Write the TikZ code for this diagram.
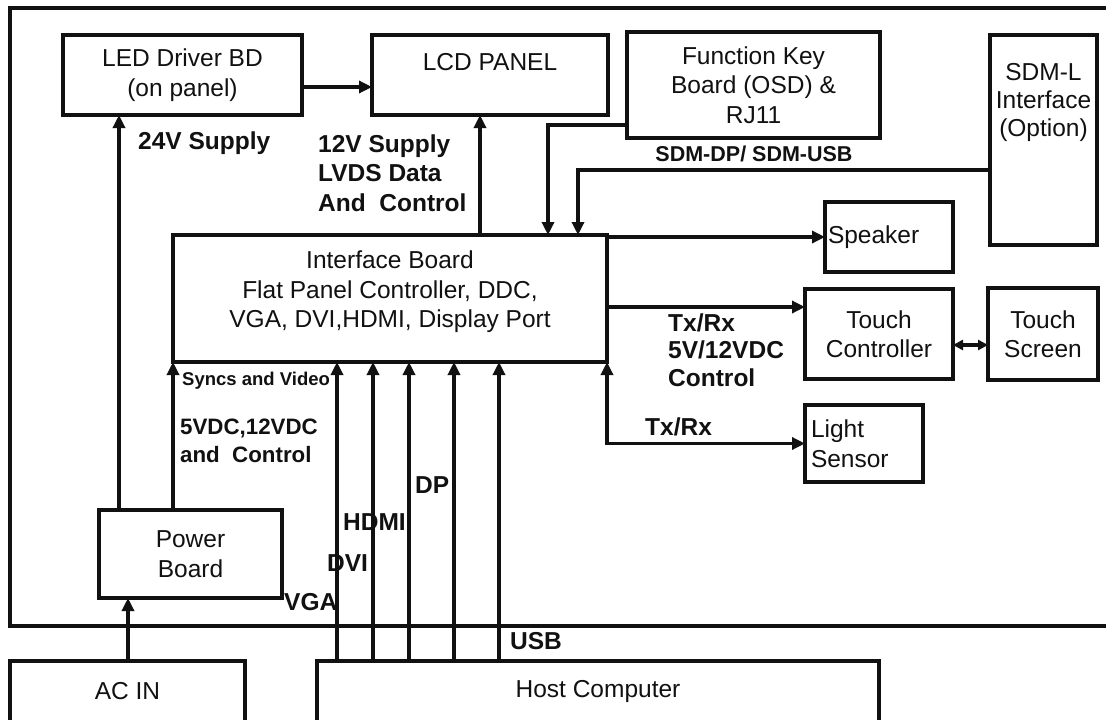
\documentclass[tikz,border=0pt]{standalone}
\usepackage{fontspec}
\setmainfont{Liberation Sans}
\usetikzlibrary{arrows.meta, positioning}
\definecolor{BDink}{HTML}{111111}
\tikzset{
  bdbox/.style={
    rectangle, draw=BDink, line width=3.8pt, fill=white, text=BDink,
    align=center, inner sep=2pt, outer sep=0pt,
    font=\fontsize{24.5}{29.5}\selectfont},
  bdboxl/.style={bdbox, align=left},
  bdlbl/.style={text=BDink, inner sep=0pt, align=left, anchor=west,
    font=\fontsize{24.5}{29.5}\selectfont\bfseries},
  bdframe/.style={line width=3.6pt, draw=BDink},
  bdarr/.style={-{Triangle[length=13pt,width=12pt]}, line width=3.3pt, draw=BDink},
  bdarr2/.style={{Triangle[length=13pt,width=12pt]}-{Triangle[length=13pt,width=12pt]},
    line width=3.3pt, draw=BDink},
  bdlink/.style={{Triangle[length=10pt,width=10pt]}-{Triangle[length=10pt,width=10pt]},
    line width=3.3pt, draw=BDink},
}

\begin{document}
\begin{tikzpicture}[x=1pt, y=-1pt]
  \useasboundingbox (0,0) rectangle (1106,720);
  %% Monitor enclosure (right side runs off the page)
  \draw[bdframe] (1112,8) -- (10,8) -- (10,626) -- (1112,626);
  %% Row 1: panel, keys, SDM
  \node[bdbox, minimum width=239pt, minimum height=80pt] (led) at (182.5,75)
        {LED Driver BD\\(on panel)};
  \node[bdbox, minimum width=236pt, minimum height=80pt, text depth=26pt,
        right=70pt of led] (lcd) {LCD PANEL};
  \node[bdbox, minimum width=253pt, minimum height=106pt] (fk) at (753.5,85)
        {Function Key\\Board (OSD) \&\\RJ11};
  \node[bdbox, minimum width=107pt, minimum height=210pt] (sdml) at (1043.5,140)
        {\parbox[c][154pt][t]{100pt}{\centering\baselineskip=28pt SDM-L\\Interface\\(Option)}};
  %% Row 2: interface board and peripherals
  \node[bdbox, minimum width=434pt, minimum height=127pt, text depth=18pt] (ifb)
        at (390,298.5)
        {Interface Board\\Flat Panel Controller, DDC,\\VGA, DVI,HDMI, Display Port};
  \node[bdbox, minimum width=148pt, minimum height=90pt] (tc) at (879,334)
        {Touch\\Controller};
  \node[bdbox, minimum width=110pt, minimum height=92pt, right=35pt of tc] (ts)
        {Touch\\Screen};
  \node[bdboxl, text width=122pt, inner xsep=3pt, minimum height=70pt,
        above=17pt of tc.north east, anchor=south east] (spk) {Speaker};
  \node[bdboxl, text width=106pt, inner xsep=6pt, minimum height=77pt,
        below=26pt of tc.south west, anchor=north west] (ls) {Light\\Sensor};
  %% Row 3: power
  \node[bdbox, minimum width=183pt, minimum height=88pt] (pwr) at (190.5,554)
        {Power\\Board};
  %% Row 4: outside the monitor
  \node[bdbox, minimum width=235pt, minimum height=61pt] (acin) at (127.5,691.5)
        {AC IN};
  \node[bdbox, minimum width=562pt, minimum height=61pt] (host) at (598,691.5)
        {Host Computer};
  %% Arrows
  \draw[bdarr] (led.east |- 0,87) -- (lcd.west |- 0,87);
  \draw[bdarr] (pwr.north -| 119,0) -- (led.south -| 119,0);
  \draw[bdarr] (pwr.north -| ifb.south west) -- (ifb.south west);
  \draw[bdarr] (ifb.north -| 480,0) -- (lcd.south -| 480,0);
  \draw[bdarr] (fk.west |- 0,125) -| (ifb.north -| 548,0);
  \draw[bdarr] (sdml.west |- 0,170) -| (ifb.north -| 578,0);
  \draw[bdarr] (ifb.east |- spk.west) -- (spk.west);
  \draw[bdarr] (ifb.east |- 0,307) -- (tc.west |- 0,307);
  \draw[bdlink] (tc.east |- 0,345) -- (ts.west |- 0,345);
  \draw[bdarr2] (ifb.south east) |- (ls.west);
  \foreach \x in {337,373,409,454,499}
    \draw[bdarr] (host.north -| \x,0) -- (ifb.south -| \x,0);
  \draw[bdarr] (acin.north -| 128,0) -- (pwr.south -| 128,0);
  %% Labels
  \node[bdlbl] (l24v) at (138,143) {24V Supply};
  \node[bdlbl] (llvds) at (318,173) {12V Supply\\LVDS Data\\And~~Control};
  \node[bdlbl, anchor=center, font=\fontsize{21.5}{25}\selectfont\bfseries]
        (lsdm) at (754,154) {SDM-DP/ SDM-USB};
  \node[bdlbl, font=\fontsize{18.5}{22}\selectfont\bfseries] (lsync) at (182,381)
        {Syncs and Video};
  \node[bdlbl, font=\fontsize{22.3}{28}\selectfont\bfseries] (lpwr) at (180,441)
        {5VDC,12VDC\\and~~Control};
  \node[bdlbl, font=\fontsize{24.5}{27.5}\selectfont\bfseries] (ltouch) at (668,350)
        {Tx/Rx\\5V/12VDC\\Control};
  \node[bdlbl] (llight) at (645,427) {Tx/Rx};
  \node[bdlbl] (lvga) at (284,602) {VGA};
  \node[bdlbl] (ldvi) at (327,563) {DVI};
  \node[bdlbl] (lhdmi) at (343,522) {HDMI};
  \node[bdlbl] (ldp) at (415,485) {DP};
  \node[bdlbl] (lusb) at (510,641) {USB};
\end{tikzpicture}
\end{document}
